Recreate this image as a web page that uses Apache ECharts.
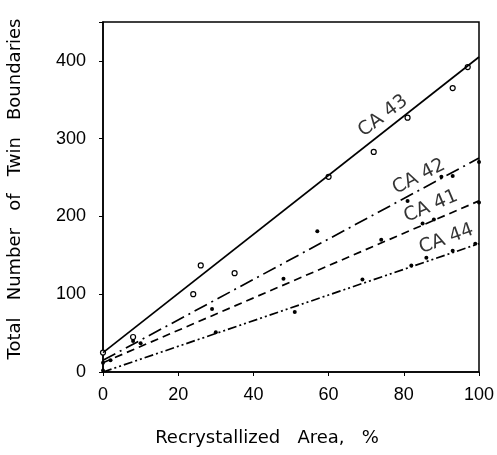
<!DOCTYPE html>
<html>
<head>
<meta charset="utf-8">
<script src="https://cdn.jsdelivr.net/npm/echarts@6/dist/echarts.min.js"></script>
<style>
  html, body { margin: 0; padding: 0; background: #fff; }
  #chart { width: 497px; height: 455px; }
</style>
</head>
<body>
<div id="chart"></div>
<script>
let ca43X = [0, 8, 24, 26, 35, 60, 72, 81, 93, 97];
let ca43Y = [25, 45, 100, 137, 127, 251, 283, 327, 365, 392];
let ca42X = [2, 8, 57, 81, 90, 93, 100];
let ca42Y = [15, 40, 181, 220, 251, 252, 270];
let ca41X = [0, 10, 29, 48, 74, 85, 88, 100];
let ca41Y = [12, 37, 81, 120, 170, 191, 196, 218];
let ca44X = [0, 30, 51, 69, 82, 86, 93, 99];
let ca44Y = [2, 51, 77, 119, 137, 147, 156, 165];

// fitted straight lines (end points)
let fitX = [0, 100];
let ca43Fit = [25, 405];
let ca42Fit = [15, 275];
let ca41Fit = [12, 220];
let ca44Fit = [0, 165];

// line label anchors
let labelNames = ['CA 43', 'CA 42', 'CA 41', 'CA 44'];
let labelX = [74.5, 84, 87.2, 91.3];
let labelY = [329, 251, 213, 171];
let labelRot = [37, 27, 23, 20];

let xTicks = [0, 20, 40, 60, 80, 100];
let yTicks = [0, 100, 200, 300, 400];

function pairs(xs, ys) {
    let out = [];
    for (let i = 0; i < xs.length; i++) {
        out.push([xs[i], ys[i]]);
    }
    return out;
}

let numFont = '"Liberation Sans Narrow", "Liberation Sans", sans-serif';
let textFont = '"DejaVu Sans", sans-serif';

let myChart = echarts.init(document.getElementById('chart'));

let seriesData = [
    {
        name: 'CA 43 fit',
        type: 'line',
        symbol: 'none',
        lineStyle: { color: '#000', width: 1.7, type: 'solid' },
        data: pairs(fitX, ca43Fit)
    },
    {
        name: 'CA 42 fit',
        type: 'line',
        symbol: 'none',
        lineStyle: { color: '#000', width: 1.7, type: [14, 5, 2, 5] },
        data: pairs(fitX, ca42Fit)
    },
    {
        name: 'CA 41 fit',
        type: 'line',
        symbol: 'none',
        lineStyle: { color: '#000', width: 1.7, type: [8, 5] },
        data: pairs(fitX, ca41Fit)
    },
    {
        name: 'CA 44 fit',
        type: 'line',
        symbol: 'none',
        lineStyle: { color: '#000', width: 1.7, type: [9, 3, 2, 3, 2, 3] },
        data: pairs(fitX, ca44Fit)
    },
    {
        name: 'CA 43',
        type: 'scatter',
        symbol: 'circle',
        symbolSize: 5,
        itemStyle: { color: '#fff', borderColor: '#000', borderWidth: 1.2, opacity: 1 },
        data: pairs(ca43X, ca43Y)
    },
    {
        name: 'CA 42',
        type: 'scatter',
        symbolSize: 4,
        itemStyle: { color: '#000', opacity: 1 },
        data: pairs(ca42X, ca42Y)
    },
    {
        name: 'CA 41',
        type: 'scatter',
        symbolSize: 4,
        itemStyle: { color: '#000', opacity: 1 },
        data: pairs(ca41X, ca41Y)
    },
    {
        name: 'CA 44',
        type: 'scatter',
        symbolSize: 4,
        itemStyle: { color: '#000', opacity: 1 },
        data: pairs(ca44X, ca44Y)
    }
];

// text labels sitting on the lines
for (let i = 0; i < labelNames.length; i++) {
    seriesData.push({
        name: labelNames[i] + ' label',
        type: 'scatter',
        symbolSize: 0,
        silent: true,
        label: {
            show: true,
            position: 'inside',
            formatter: labelNames[i],
            rotate: labelRot[i],
            color: '#000',
            fontFamily: textFont,
            fontSize: 19
        },
        data: [[labelX[i], labelY[i]]]
    });
}

let option = {
    animation: false,
    backgroundColor: '#fff',
    grid: {
        left: 103,
        right: 18,
        top: 22,
        bottom: 83,
        outerBoundsMode: 'none',
        containLabel: false,
        show: true,
        borderColor: '#000',
        borderWidth: 1.5,
        backgroundColor: 'transparent'
    },
    xAxis: {
        type: 'value',
        min: 0,
        max: 100,
        interval: 20,
        name: 'Recrystallized   Area,   %',
        nameLocation: 'middle',
        nameGap: 57,
        nameTextStyle: {
            color: '#000',
            fontFamily: textFont,
            fontSize: 18,
            padding: [0, 48, 0, 0]
        },
        axisLine: { lineStyle: { color: '#000', width: 1.5 } },
        axisTick: { show: true, length: 4, lineStyle: { color: '#000' } },
        axisLabel: {
            color: '#000',
            fontFamily: numFont,
            fontSize: 18,
            margin: 14,
            formatter: function (v) { return xTicks.indexOf(v) >= 0 ? String(v) : ''; }
        },
        splitLine: { show: false }
    },
    yAxis: {
        type: 'value',
        min: 0,
        max: 450,
        interval: 100,
        name: 'Total   Number   of   Twin   Boundaries',
        nameLocation: 'middle',
        nameGap: 79,
        nameTextStyle: {
            color: '#000',
            fontFamily: textFont,
            fontSize: 18,
            padding: [0, 0, 0, 16]
        },
        axisLine: { lineStyle: { color: '#000', width: 1.5 } },
        axisTick: { show: true, length: 4, lineStyle: { color: '#000' } },
        axisLabel: {
            color: '#000',
            fontFamily: numFont,
            fontSize: 18,
            margin: 17,
            formatter: function (v) { return yTicks.indexOf(v) >= 0 ? String(v) : ''; }
        },
        splitLine: { show: false }
    },
    series: seriesData
};

myChart.setOption(option);
</script>
</body>
</html>
